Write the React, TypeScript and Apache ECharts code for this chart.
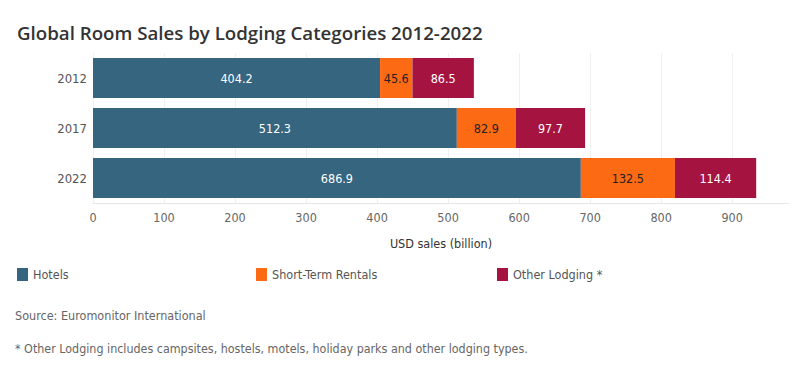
import React, { useEffect, useRef } from "react";
import * as echarts from "echarts";

const years = ["2012", "2017", "2022"];
const hotels = [404.2, 512.3, 686.9];
const shortTerm = [45.6, 82.9, 132.5];
const otherLodging = [86.5, 97.7, 114.4];
const seriesNames = ["Hotels", "Short-Term Rentals", "Other Lodging *"];
const seriesColors = ["#35657f", "#fd6a14", "#a51441"];
const labelColors = ["#ffffff", "#222222", "#ffffff"];

const FONT = "'DejaVu Sans Condensed', 'DejaVu Sans', sans-serif";

export default function App() {
  const ref = useRef<HTMLDivElement>(null);
  useEffect(() => {
    if (!ref.current) return;
    const chart = echarts.init(ref.current, null, { renderer: "svg" });
    const values = [hotels, shortTerm, otherLodging];
    const legendX = [17, 256, 497];
    chart.setOption({
      animation: false,
      backgroundColor: "#ffffff",
      title: {
        text: "Global Room Sales by Lodging Categories 2012-2022",
        left: 12,
        top: 18,
        textStyle: {
          fontFamily: "'Open Sans', sans-serif",
          fontWeight: 600,
          fontSize: 18.7,
          color: "#333333",
        },
      },
      legend: seriesNames.map((n, i) => ({
        data: [n],
        left: legendX[i],
        top: 268,
        padding: 0,
        itemWidth: 11,
        itemHeight: 13,
        icon: "rect",
        selectedMode: false,
        textStyle: { fontFamily: FONT, fontSize: 12.5, color: "#555555" },
      })),
      grid: { left: 93, right: 11, top: 53, bottom: 172, containLabel: false },
      xAxis: {
        type: "value",
        min: 0,
        max: 980,
        interval: 100,
        name: "USD sales (billion)",
        nameLocation: "middle",
        nameGap: 34,
        nameTextStyle: { fontFamily: FONT, fontSize: 12.5, color: "#333333" },
        axisLine: { show: true, lineStyle: { color: "#e6e6e6" } },
        axisTick: { show: false },
        axisLabel: {
          showMaxLabel: false,
          fontFamily: FONT,
          fontSize: 12.5,
          color: "#666666",
          margin: 8,
        },
        splitLine: { show: true, showMaxLine: false, lineStyle: { color: "#f0f0f0" } },
      },
      yAxis: {
        type: "category",
        data: years,
        inverse: true,
        axisLine: { show: true, lineStyle: { color: "#f0f0f0" } },
        axisTick: { show: false },
        axisLabel: { fontFamily: FONT, fontSize: 13, color: "#555555", margin: 6 },
      },
      series: seriesNames.map((n, i) => ({
        name: n,
        type: "bar",
        stack: "total",
        data: values[i],
        barCategoryGap: "20%",
        itemStyle: { color: seriesColors[i] },
        label: {
          show: true,
          position: "inside",
          fontFamily: FONT,
          fontSize: 12.5,
          color: labelColors[i],
        },
      })),
      graphic: [
        {
          type: "text",
          left: 15,
          top: 309,
          style: {
            text: "Source: Euromonitor International",
            fontFamily: FONT,
            fontSize: 12.5,
            fill: "#666666",
          },
        },
        {
          type: "text",
          left: 15,
          top: 342,
          style: {
            text: "* Other Lodging includes campsites, hostels, motels, holiday parks and other lodging types.",
            fontFamily: FONT,
            fontSize: 12.4,
            fill: "#666666",
          },
        },
      ],
    });
    return () => chart.dispose();
  }, []);
  return <div ref={ref} style={{ width: 800, height: 375, position: "absolute", left: 0, top: 0 }} />;
}
